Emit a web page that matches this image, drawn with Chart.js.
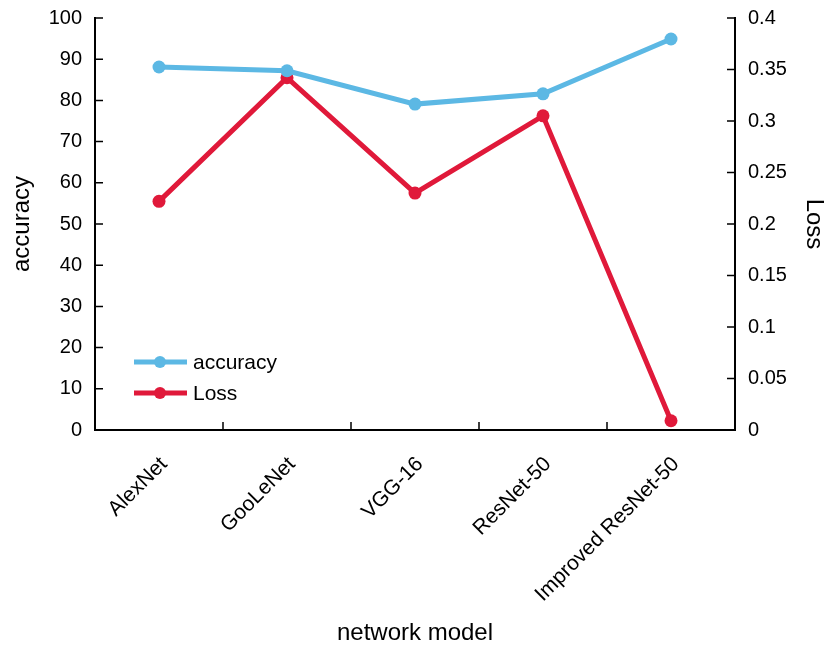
<!DOCTYPE html>
<html>
<head>
<meta charset="utf-8">
<script src="https://cdn.jsdelivr.net/npm/chart.js@4/dist/chart.umd.min.js"></script>
<style>
  html, body { margin: 0; padding: 0; background: #fff; }
  #wrap { width: 826px; height: 649px; }
</style>
</head>
<body>
<div id="wrap"><canvas id="myChart"></canvas></div>
<script>
const models = ["AlexNet", "GooLeNet", "VGG-16", "ResNet-50", "Improved ResNet-50"];
const accuracy = [88.1, 87.2, 79.1, 81.6, 94.9];
const loss = [0.222, 0.342, 0.230, 0.305, 0.009];

const BLUE = "#5cb8e4";
const RED = "#e0193a";
const FONT = "'Liberation Sans', Arial, sans-serif";

// ticks drawn inward like the original figure
const innerTicks = {
  id: "innerTicks",
  afterDraw(chart) {
    const ctx = chart.ctx;
    const a = chart.chartArea;
    const len = 8;
    ctx.save();
    ctx.strokeStyle = "#000";
    ctx.lineWidth = 1.5;
    ctx.beginPath();
    chart.scales.y.ticks.forEach((t) => {
      const y = chart.scales.y.getPixelForValue(t.value);
      ctx.moveTo(a.left, y); ctx.lineTo(a.left + len, y);
    });
    chart.scales.y1.ticks.forEach((t) => {
      const y = chart.scales.y1.getPixelForValue(t.value);
      ctx.moveTo(a.right, y); ctx.lineTo(a.right - len, y);
    });
    const x = chart.scales.x;
    for (let i = 0; i < models.length - 1; i++) {
      const px = (x.getPixelForValue(i) + x.getPixelForValue(i + 1)) / 2;
      ctx.moveTo(px, a.bottom); ctx.lineTo(px, a.bottom - len);
    }
    ctx.stroke();
    ctx.restore();
  }
};

// legend inside the plot, lower left
const innerLegend = {
  id: "innerLegend",
  afterDraw(chart) {
    const ctx = chart.ctx;
    const a = chart.chartArea;
    ctx.save();
    ctx.font = "21px " + FONT;
    ctx.textBaseline = "middle";
    chart.data.datasets.forEach((ds, i) => {
      const y = a.bottom - 68 + i * 31;
      const x0 = a.left + 39;
      ctx.strokeStyle = ds.borderColor;
      ctx.lineWidth = 5;
      ctx.beginPath();
      ctx.moveTo(x0, y); ctx.lineTo(x0 + 53, y);
      ctx.stroke();
      ctx.fillStyle = ds.borderColor;
      ctx.beginPath();
      ctx.arc(x0 + 26, y, 6, 0, Math.PI * 2);
      ctx.fill();
      ctx.fillStyle = "#000";
      ctx.fillText(ds.label, x0 + 59, y + 1);
    });
    ctx.restore();
  }
};

const data = {
  labels: models,
  datasets: [
    {
      label: "accuracy",
      data: accuracy,
      yAxisID: "y",
      borderColor: BLUE,
      backgroundColor: BLUE,
      borderWidth: 5,
      pointRadius: 6.5,
      pointBorderWidth: 0,
      tension: 0,
    },
    {
      label: "Loss",
      data: loss,
      yAxisID: "y1",
      borderColor: RED,
      backgroundColor: RED,
      borderWidth: 5,
      pointRadius: 6.5,
      pointBorderWidth: 0,
      tension: 0,
    },
  ],
};

const config = {
  type: "line",
  data: data,
  options: {
    responsive: true,
    maintainAspectRatio: false,
    animation: false,
    layout: { padding: { top: 0, left: 0, right: 0, bottom: 0 } },
    plugins: {
      legend: { display: false },
      tooltip: { enabled: false },
    },
    scales: {
      x: {
        type: "category",
        offset: true,
        afterFit: (s) => { s.height = 219; },
        grid: { display: false, drawTicks: false },
        border: { display: true, color: "#000", width: 2 },
        ticks: {
          color: "#000",
          font: { family: FONT, size: 21 },
          minRotation: 45,
          maxRotation: 45,
          padding: 22,
          labelOffset: 5,
        },
        title: {
          display: true,
          text: "network model",
          color: "#000",
          font: { family: FONT, size: 24 },
          padding: { top: 4, bottom: 1 },
        },
      },
      y: {
        position: "left",
        min: 0,
        max: 100,
        afterFit: (s) => { s.width = 95; },
        grid: { display: false, drawTicks: false },
        border: { display: true, color: "#000", width: 2 },
        ticks: {
          stepSize: 10,
          autoSkip: false,
          color: "#000",
          font: { family: FONT, size: 20, lineHeight: 0.5 },
          padding: 13,
        },
        title: {
          display: true,
          text: "accuracy",
          color: "#000",
          font: { family: FONT, size: 24, lineHeight: 1 },
          padding: 10,
        },
      },
      y1: {
        position: "right",
        min: 0,
        max: 0.4,
        afterFit: (s) => { s.width = 91; },
        grid: { display: false, drawTicks: false },
        border: { display: true, color: "#000", width: 2 },
        ticks: {
          stepSize: 0.05,
          autoSkip: false,
          color: "#000",
          font: { family: FONT, size: 20, lineHeight: 0.5 },
          padding: 13,
          callback: (v) => String(Number(v.toFixed(2))),
        },
        title: {
          display: true,
          text: "Loss",
          color: "#000",
          font: { family: FONT, size: 24, lineHeight: 1 },
          padding: 0,
        },
      },
    },
  },
  plugins: [innerTicks, innerLegend],
};

const myChart = new Chart(document.getElementById("myChart"), config);
</script>
</body>
</html>
